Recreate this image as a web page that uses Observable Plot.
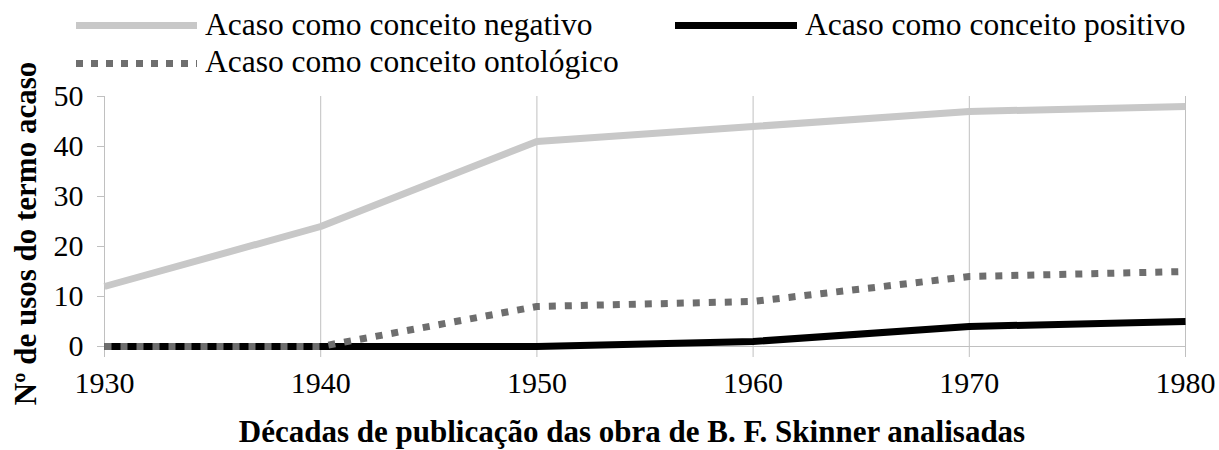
<!DOCTYPE html>
<html>
<head>
<meta charset="utf-8">
<script src="https://cdn.jsdelivr.net/npm/d3@7"></script>
<script src="https://cdn.jsdelivr.net/npm/@observablehq/plot@0.6"></script>
<style>
  html, body { margin: 0; padding: 0; background: #fff; }
  #wrap { width: 1219px; font-family: "Liberation Serif", "Times New Roman", serif; }
  #legend { position: relative; width: 1219px; height: 85px; }
  .sw { position: absolute; height: 7px; }
  .lt { position: absolute; font-size: 31.5px; line-height: 31px; white-space: nowrap; color: #000; }
  #chart svg { overflow: visible; }
  #chart svg text { font-family: "Liberation Serif", "Times New Roman", serif !important; font-variant: normal !important; }
</style>
</head>
<body>
<div id="wrap">
  <div id="legend"></div>
  <div id="chart"></div>
</div>
<script>
const decades = [1930, 1940, 1950, 1960, 1970, 1980];
const negativo = [12, 24, 41, 44, 47, 48];
const positivo = [0, 0, 0, 1, 4, 5];
const ontologico = [0, 0, 8, 9, 14, 15];
const yTicks = [0, 10, 20, 30, 40, 50];
const seriesNames = ["Acaso como conceito negativo", "Acaso como conceito positivo", "Acaso como conceito ontológico"];
const yLabel = "Nº de usos do termo acaso";
const xLabel = "Décadas de publicação das obra de B. F. Skinner analisadas";

const rows = decades.map((d, i) => ({decade: d, negativo: negativo[i], positivo: positivo[i], ontologico: ontologico[i]}));

// Legend (HTML)
const legend = document.getElementById("legend");
const items = [
  {name: seriesNames[0], left: 76, width: 121, cy: 25, textLeft: 205, textTop: 9, bg: "#c8c8c8"},
  {name: seriesNames[1], left: 675, width: 122, cy: 25, textLeft: 805, textTop: 9, bg: "#000"},
  {name: seriesNames[2], left: 76, width: 121, cy: 63, textLeft: 205, textTop: 46, bg: "repeating-linear-gradient(to right, #6e6e6e 0 7px, transparent 7px 15px)"}
];
for (const it of items) {
  const s = document.createElement("div");
  s.className = "sw";
  s.style.left = it.left + "px";
  s.style.width = it.width + "px";
  s.style.top = (it.cy - 3.5) + "px";
  s.style.background = it.bg;
  legend.appendChild(s);
  const t = document.createElement("div");
  t.className = "lt";
  t.style.left = it.textLeft + "px";
  t.style.top = it.textTop + "px";
  t.textContent = it.name;
  legend.appendChild(t);
}

const serif = "Liberation Serif";
const chart = Plot.plot({
  width: 1219,
  height: 365,
  marginLeft: 104,
  marginRight: 34,
  marginTop: 11,
  marginBottom: 104,
  style: {fontFamily: serif, background: "#fff", overflow: "visible"},
  x: {type: "linear", domain: [1930, 1980]},
  y: {domain: [0, 50]},
  marks: [
    Plot.gridX(decades, {stroke: "#c0c0c0", strokeOpacity: 1}),
    Plot.ruleY([0], {stroke: "#c0c0c0"}),
    Plot.axisY(yTicks, {tickSize: 7, tickPadding: 14, stroke: "#c0c0c0", fontSize: 30, fontFamily: serif, label: null}),
    Plot.axisX(decades, {tickSize: 11, tickPadding: 14, stroke: "#c0c0c0", fontSize: 30, fontFamily: serif, tickFormat: d => String(d), label: null}),
    Plot.line(rows, {x: "decade", y: "negativo", stroke: "#c8c8c8", strokeWidth: 7, strokeLinecap: "butt", strokeLinejoin: "round"}),
    Plot.line(rows, {x: "decade", y: "positivo", stroke: "#000", strokeWidth: 7, strokeLinecap: "butt", strokeLinejoin: "round"}),
    Plot.line(rows, {x: "decade", y: "ontologico", stroke: "#6e6e6e", strokeWidth: 7, strokeDasharray: "7,9", strokeLinecap: "butt", strokeLinejoin: "round"}),
    Plot.text([yLabel], {text: d => d, frameAnchor: "left", textAnchor: "middle", lineAnchor: "middle", dx: -78, dy: 12, rotate: -90, fontSize: 31, fontWeight: "bold", fontFamily: serif, fill: "#000"}),
    Plot.text([xLabel], {text: d => d, frameAnchor: "bottom", textAnchor: "middle", lineAnchor: "middle", dx: -13, dy: 86, fontSize: 31, fontWeight: "bold", fontFamily: serif, fill: "#000"})
  ]
});
document.getElementById("chart").appendChild(chart);
</script>
</body>
</html>
